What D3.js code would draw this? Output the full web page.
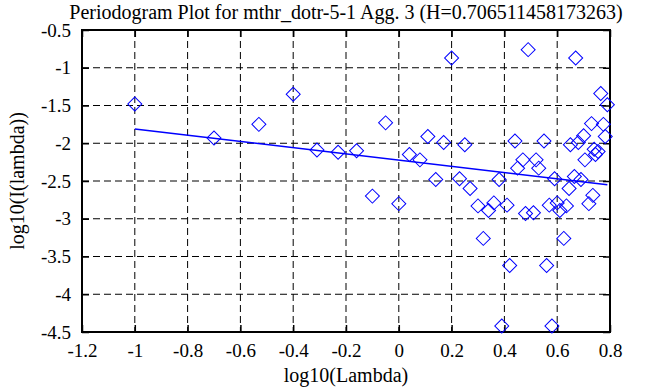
<!DOCTYPE html>
<html>
<head>
<meta charset="utf-8">
<script src="https://cdn.jsdelivr.net/npm/d3@7"></script>
<style>
  body { margin: 0; background: #fff; }
  svg { display: block; }
  text { font-family: "Liberation Serif", "Times New Roman", serif; fill: #000; }
</style>
</head>
<body>
<div id="chart"></div>
<script>
// periodogram points: log10(lambda), log10(I(lambda))
const logLambda = [
  -1.00, -0.70, -0.53, -0.40, -0.31, -0.23, -0.16, -0.10, -0.05, 0.00,
  0.04, 0.08, 0.11, 0.14, 0.17, 0.20, 0.23, 0.25, 0.27, 0.30,
  0.32, 0.34, 0.36, 0.38, 0.39, 0.41, 0.42, 0.44, 0.45, 0.47,
  0.48, 0.49, 0.51, 0.52, 0.53, 0.55, 0.56, 0.57, 0.58, 0.59,
  0.60, 0.61, 0.625, 0.635, 0.645, 0.65, 0.665, 0.67, 0.68, 0.69,
  0.70, 0.705, 0.72, 0.73, 0.735, 0.74, 0.745, 0.755, 0.765, 0.775,
  0.782, 0.79
];
const logI = [
  -1.48, -1.93, -1.75, -1.35, -2.09, -2.12, -2.10, -2.70, -1.73, -2.80,
  -2.15, -2.22, -1.91, -2.48, -1.99, -0.87, -2.47, -2.02, -2.60, -2.83,
  -3.26, -2.89, -2.79, -2.48, -4.42, -2.82, -3.62, -1.97, -2.33, -2.22,
  -2.93, -0.76, -2.92, -2.22, -2.33, -1.97, -3.62, -2.82, -4.42, -2.47,
  -2.79, -2.89, -3.26, -2.83, -2.60, -2.02, -2.44, -0.87, -1.99, -2.48,
  -1.90, -2.22, -2.80, -1.74, -2.69, -2.08, -2.15, -2.11, -1.34, -1.75,
  -1.91, -1.49
];
// least squares fit line end points
const fitX = [-1.0, 0.79];
const fitY = [-1.81, -2.55];

const xTicks = [-1.2, -1, -0.8, -0.6, -0.4, -0.2, 0, 0.2, 0.4, 0.6, 0.8];
const yTicks = [-0.5, -1, -1.5, -2, -2.5, -3, -3.5, -4, -4.5];

const width = 668, height = 387;
const margin = { top: 30, right: 58, bottom: 55, left: 82 };
const innerW = width - margin.left - margin.right;
const innerH = height - margin.top - margin.bottom;
const serif = '"Liberation Serif", "Times New Roman", serif';

const svg = d3.select('#chart').append('svg')
  .attr('width', width)
  .attr('height', height);

const g = svg.append('g')
  .attr('transform', 'translate(' + margin.left + ',' + margin.top + ')');

const xScale = d3.scaleLinear().domain([-1.2, 0.8]).range([0, innerW]);
const yScale = d3.scaleLinear().domain([-4.5, -0.5]).range([innerH, 0]);

// dashed grid
g.append('g')
  .selectAll('line')
  .data(xTicks.slice(1, -1))
  .enter().append('line')
  .attr('x1', d => xScale(d)).attr('x2', d => xScale(d))
  .attr('y1', 0).attr('y2', innerH)
  .style('stroke', '#000')
  .style('stroke-width', 1)
  .style('stroke-dasharray', '7,4');

g.append('g')
  .selectAll('line')
  .data(yTicks.slice(1, -1))
  .enter().append('line')
  .attr('x1', 0).attr('x2', innerW)
  .attr('y1', d => yScale(d)).attr('y2', d => yScale(d))
  .style('stroke', '#000')
  .style('stroke-width', 1)
  .style('stroke-dasharray', '7,4');

// axes with inward ticks
const fmt = d => String(d);
const xAxis = g.append('g')
  .attr('transform', 'translate(0,' + innerH + ')')
  .call(d3.axisBottom(xScale).tickValues(xTicks).tickSizeInner(-7).tickSizeOuter(0).tickPadding(12).tickFormat(fmt));
const xAxisTop = g.append('g')
  .call(d3.axisTop(xScale).tickValues(xTicks).tickSizeInner(-7).tickSizeOuter(0).tickFormat(''));
const yAxis = g.append('g')
  .call(d3.axisLeft(yScale).tickValues(yTicks).tickSizeInner(-7).tickSizeOuter(0).tickPadding(11).tickFormat(fmt));
const yAxisRight = g.append('g')
  .attr('transform', 'translate(' + innerW + ',0)')
  .call(d3.axisRight(yScale).tickValues(yTicks).tickSizeInner(-7).tickSizeOuter(0).tickFormat(''));

[xAxis, xAxisTop, yAxis, yAxisRight].forEach(a => {
  a.attr('font-family', serif).attr('font-size', 19);
  a.select('.domain').remove();
  a.selectAll('.tick line').attr('stroke', '#000').attr('stroke-width', 1.5);
  a.selectAll('.tick text').attr('fill', '#000');
});

// frame
g.append('rect')
  .attr('x', 0).attr('y', 0)
  .attr('width', innerW).attr('height', innerH)
  .style('fill', 'none')
  .style('stroke', '#000')
  .style('stroke-width', 2);

// fit line
const line = d3.line()
  .x(d => xScale(d[0]))
  .y(d => yScale(d[1]));

g.append('path')
  .attr('d', line(fitX.map((x, i) => [x, fitY[i]])))
  .style('fill', 'none')
  .style('stroke', '#0000ff')
  .style('stroke-width', 1.5);

// diamonds
const diamond = d3.symbol().type(d3.symbolSquare).size(98);
g.append('g')
  .selectAll('path')
  .data(logLambda.map((x, i) => [x, logI[i]]))
  .enter().append('path')
  .attr('d', diamond)
  .attr('transform', d => 'translate(' + xScale(d[0]) + ',' + yScale(d[1]) + ') rotate(45)')
  .style('fill', 'none')
  .style('stroke', '#0000ff')
  .style('stroke-width', 1);

// title and axis labels
svg.append('text')
  .attr('x', margin.left + innerW / 2)
  .attr('y', 19)
  .attr('text-anchor', 'middle')
  .attr('font-family', serif)
  .attr('font-size', 20)
  .text('Periodogram Plot for mthr_dotr-5-1 Agg. 3 (H=0.706511458173263)');

svg.append('text')
  .attr('x', margin.left + innerW / 2)
  .attr('y', 382)
  .attr('text-anchor', 'middle')
  .attr('font-family', serif)
  .attr('font-size', 20)
  .text('log10(Lambda)');

svg.append('text')
  .attr('transform', 'translate(24,' + (margin.top + innerH / 2) + ') rotate(-90)')
  .attr('text-anchor', 'middle')
  .attr('font-family', serif)
  .attr('font-size', 20)
  .text('log10(I(lambda))');
</script>
</body>
</html>
